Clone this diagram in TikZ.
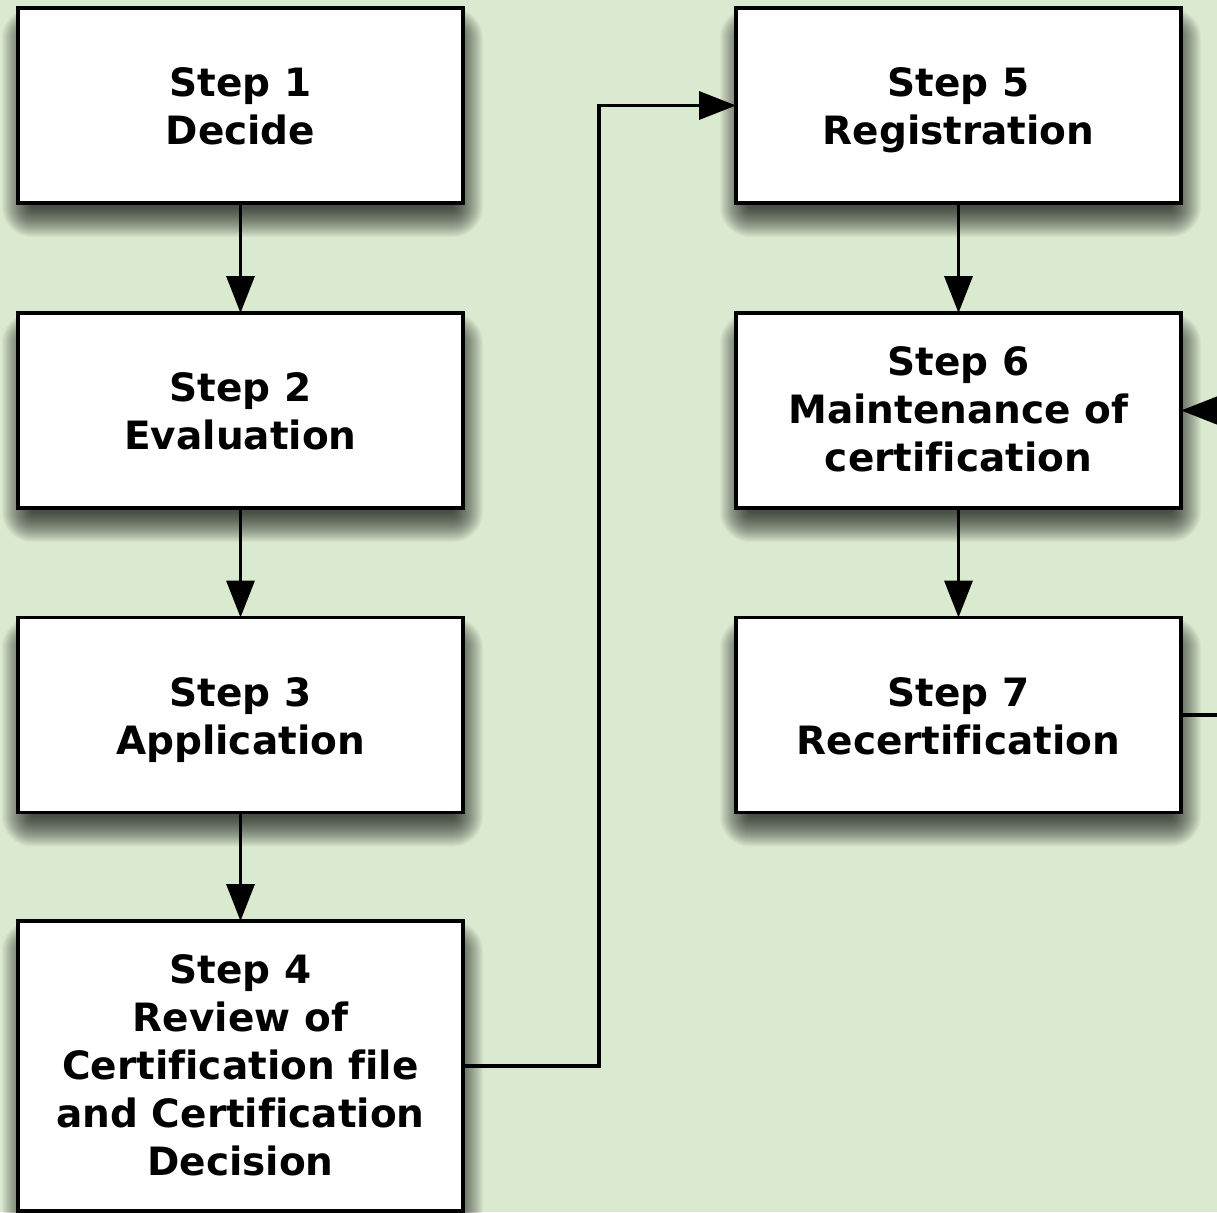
\documentclass[tikz,border=0pt]{standalone}
\usepackage{fontspec}
\setmainfont[Ligatures=NoCommon]{DejaVu Sans}
\usetikzlibrary{arrows.meta,calc}
\definecolor{bg}{RGB}{218,234,208}
\pgfdeclarelayer{bgl}
\pgfdeclarelayer{shad}
\pgfsetlayers{bgl,shad,main}
\begin{document}
\begin{tikzpicture}[x=1pt,y=-1pt,
  stepbox/.style={draw=black, line width=3.8pt, fill=white,
    minimum width=445pt, minimum height=195pt, inner sep=0pt, outer sep=0pt},
  steptext/.style={align=center, inner sep=0pt, font=\fontsize{39}{48}\selectfont\bfseries,
    execute at end node=\rule[-10pt]{0pt}{0pt}},
  conn/.style={line width=3.5pt, -{Triangle[length=37pt,width=28pt]}}]
\clip (0,0) rectangle (1217,1212);
\node[stepbox] (s1) at (240.5,105.5) {};
\node[stepbox] (s2) at (240.5,410.5) {};
\node[stepbox] (s3) at (240.5,715) {};
\node[stepbox, minimum height=290pt] (s4) at (240.5,1066) {};
\node[stepbox] (s5) at (958.5,105.5) {};
\node[stepbox] (s6) at (958.5,410.5) {};
\node[stepbox] (s7) at (958.5,715) {};
\node[steptext] (t1) at ($(s1)+(0,6)$) {Step 1\\Decide};
\node[steptext] (t2) at ($(s2)+(0,6)$) {Step 2\\Evaluation};
\node[steptext] (t3) at ($(s3)+(0,6)$) {Step 3\\Application};
\node[steptext] (t4) at ($(s4)+(0,4)$) {Step 4\\Review of\\Certification file\\and Certification\\Decision};
\node[steptext] (t5) at ($(s5)+(0,6)$) {Step 5\\Registration};
\node[steptext] (t6) at ($(s6)+(0,4)$) {Step 6\\Maintenance of\\certification};
\node[steptext] (t7) at ($(s7)+(0,6)$) {Step 7\\Recertification};
\begin{pgfonlayer}{bgl}
\fill[bg] (0,0) rectangle (1217,1212);
\end{pgfonlayer}
\begin{pgfonlayer}{shad}
\foreach \s in {s1,s2,s3,s4,s5,s6,s7}{
  \foreach \r in {1,...,30}{
    \fill[black, fill opacity=0.032, rounded corners=\r pt]
      ($(\s.south west)+(14-\r,4+\r)$) rectangle ($(\s.north east)+(-10+\r,30-\r)$);
  }
}
\end{pgfonlayer}
\coordinate (r7) at (1260,715);
\coordinate (r6) at (1260,410.5);
\draw[conn] (s1) -- (s2);
\draw[conn] (s2) -- (s3);
\draw[conn] (s3) -- (s4);
\draw[conn] (s4.east) -- (599,1066) |- (s5.west);
\draw[conn] (s5) -- (s6);
\draw[conn] (s6) -- (s7);
\draw[conn] (s7.east) -- (r7) -- (r6) -- (s6.east);
\end{tikzpicture}
\end{document}
